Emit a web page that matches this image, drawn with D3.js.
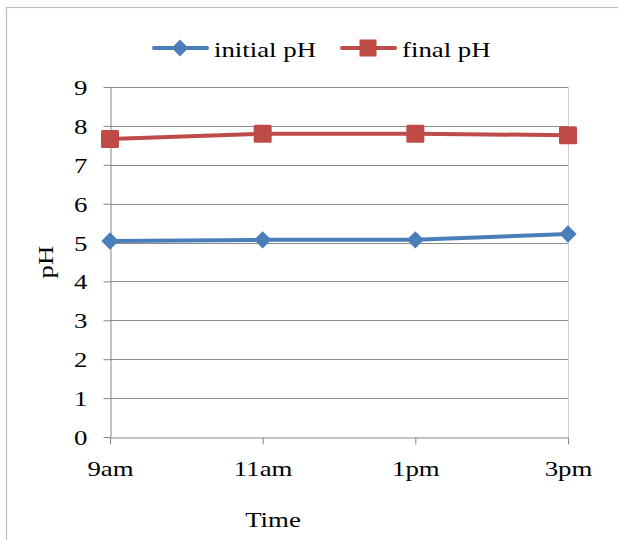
<!DOCTYPE html>
<html>
<head>
<meta charset="utf-8">
<script src="https://cdn.jsdelivr.net/npm/d3@7"></script>
<style>
  body { margin: 0; background: #fff; }
  svg { display: block; font-family: "Liberation Serif", "Times New Roman", serif; }
</style>
</head>
<body>
<svg id="chart"></svg>
<script>
// Data
const times = ["9am", "11am", "1pm", "3pm"];
const initialPH = [5.04, 5.07, 5.07, 5.22];
const finalPH = [7.66, 7.8, 7.8, 7.76];
const yTicks = [0, 1, 2, 3, 4, 5, 6, 7, 8, 9];

const width = 618, height = 540;
const margin = { top: 87, right: 50, bottom: 103, left: 110 };
// the reference text is a little wider than Times, so stretch it
const sx = 1.22;
const fontSize = 22;

const svg = d3.select("#chart").attr("width", width).attr("height", height);

// outer chart border
svg.append("rect")
  .attr("x", 6.5).attr("y", 7.5)
  .attr("width", width).attr("height", height)
  .attr("fill", "none").attr("stroke", "#bfbfbf").attr("stroke-width", 1.2);

const x = d3.scalePoint()
  .domain(times)
  .range([margin.left, width - margin.right])
  .padding(0);

const y = d3.scaleLinear()
  .domain([0, 9])
  .range([height - margin.bottom, margin.top]);

function stretched(g, tx, ty, str, anchor) {
  return g.append("text")
    .attr("transform", "translate(" + tx + "," + ty + ") scale(" + sx + ",1)")
    .attr("text-anchor", anchor || "start")
    .attr("font-size", fontSize)
    .attr("fill", "#000")
    .text(str);
}

// gridlines
svg.append("g")
  .selectAll("line")
  .data(yTicks.slice(1))
  .join("line")
  .attr("x1", margin.left).attr("x2", width - margin.right)
  .attr("y1", (d) => Math.round(y(d)) + 0.5)
  .attr("y2", (d) => Math.round(y(d)) + 0.5)
  .attr("stroke", "#8c8c8c");

// right plot border
svg.append("line")
  .attr("x1", x("3pm") + 0.5).attr("x2", x("3pm") + 0.5)
  .attr("y1", y(9)).attr("y2", y(0))
  .attr("stroke", "#d0d0d0");

// y axis
const yAxis = svg.append("g")
  .attr("transform", "translate(" + (margin.left + 0.5) + ",0)")
  .call(d3.axisLeft(y).tickValues(yTicks).tickSize(7).tickSizeOuter(0));
yAxis.selectAll("text")
  .attr("font-size", fontSize).attr("fill", "#000")
  .attr("font-family", "Liberation Serif")
  .attr("x", -23 / sx).attr("dy", "0.34em")
  .attr("transform", "scale(" + sx + ",1)");

// x axis
const xAxis = svg.append("g")
  .attr("transform", "translate(0," + (Math.round(y(0)) + 0.5) + ")")
  .call(d3.axisBottom(x).tickSize(7).tickSizeOuter(0));
xAxis.selectAll("text")
  .attr("font-size", fontSize).attr("fill", "#000")
  .attr("font-family", "Liberation Serif")
  .attr("y", 39).attr("dy", 0)
  .attr("transform", "scale(" + sx + ",1)");

[yAxis, xAxis].forEach((g) => {
  g.select(".domain").attr("stroke", "#868686");
  g.selectAll(".tick line").attr("stroke", "#868686");
});

// axis titles
stretched(svg, 273, 527, "Time", "middle");

svg.append("text")
  .attr("transform", "translate(53,262) rotate(-90) scale(" + sx + ",1)")
  .attr("text-anchor", "middle")
  .attr("font-size", fontSize)
  .text("pH");

const line = d3.line().x((d, i) => x(times[i])).y((d) => y(d));

// initial pH
svg.append("path")
  .datum(initialPH)
  .attr("d", line)
  .attr("fill", "none").attr("stroke", "#4a7ebb").attr("stroke-width", 4);

svg.append("g")
  .selectAll("path")
  .data(initialPH)
  .join("path")
  .attr("transform", (d, i) => "translate(" + x(times[i]) + "," + y(d) + ")")
  .attr("d", d3.symbol(d3.symbolDiamond2, 190))
  .attr("fill", "#4a7ebb");

// final pH
svg.append("path")
  .datum(finalPH)
  .attr("d", line)
  .attr("fill", "none").attr("stroke", "#be4b48").attr("stroke-width", 4);

svg.append("g")
  .selectAll("rect")
  .data(finalPH)
  .join("rect")
  .attr("x", (d, i) => x(times[i]) - 9)
  .attr("y", (d) => y(d) - 9)
  .attr("width", 18).attr("height", 18)
  .attr("rx", 1.5)
  .attr("fill", "#be4b48");

// legend
const legend = [
  { name: "initial pH", color: "#4a7ebb", x0: 154, shape: "diamond" },
  { name: "final pH", color: "#be4b48", x0: 342, shape: "square" },
];
const ly = 48;
legend.forEach((l) => {
  svg.append("line")
    .attr("x1", l.x0).attr("x2", l.x0 + 53)
    .attr("y1", ly).attr("y2", ly)
    .attr("stroke", l.color).attr("stroke-width", 4).attr("stroke-linecap", "round");
  if (l.shape === "diamond") {
    svg.append("path")
      .attr("transform", "translate(" + (l.x0 + 26) + "," + ly + ")")
      .attr("d", d3.symbol(d3.symbolDiamond2, 180))
      .attr("fill", l.color);
  } else {
    svg.append("rect")
      .attr("x", l.x0 + 26 - 8.5).attr("y", ly - 8.5)
      .attr("width", 17).attr("height", 17)
      .attr("fill", l.color);
  }
  stretched(svg, l.x0 + 60, 56.5, l.name);
});
</script>
</body>
</html>
